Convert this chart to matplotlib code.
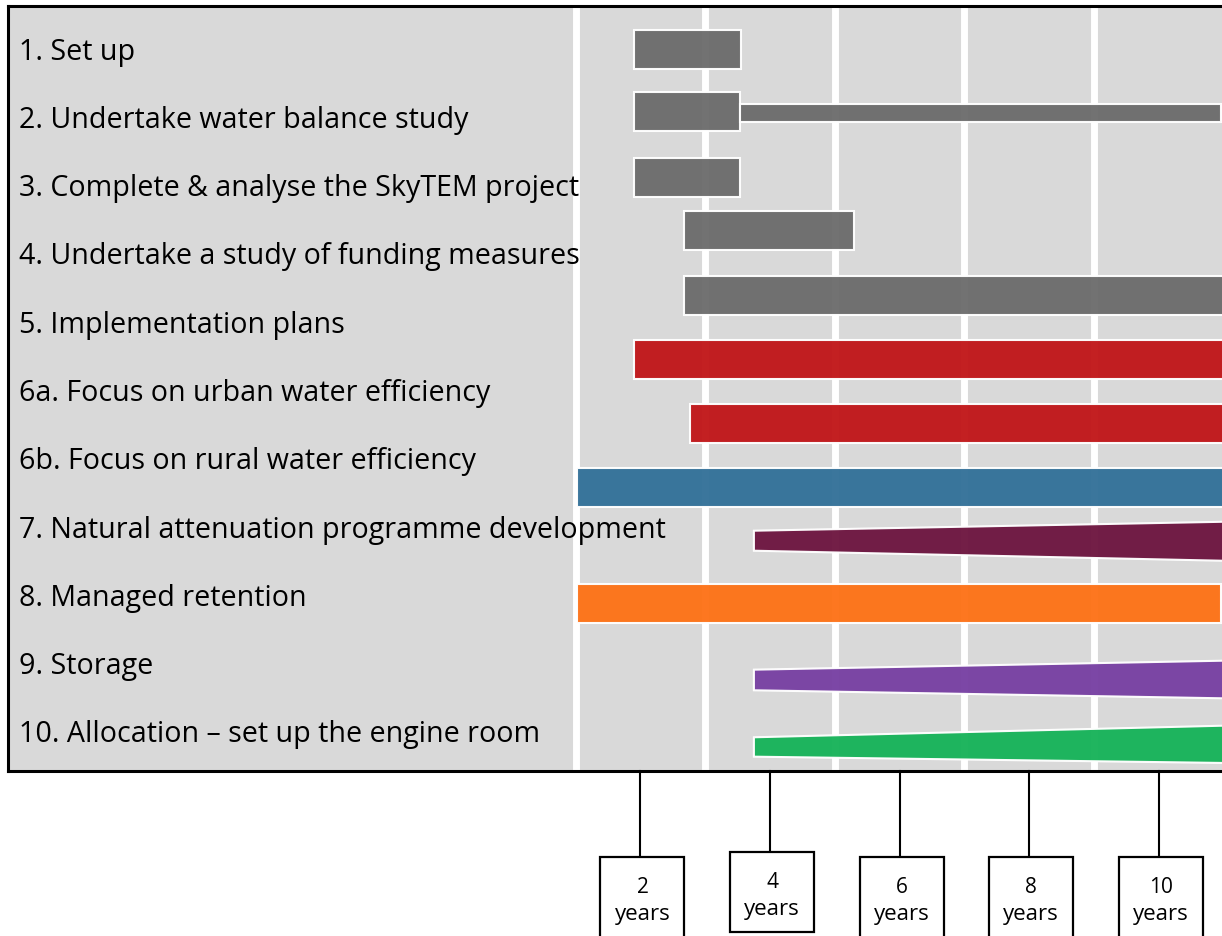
import matplotlib
matplotlib.use("Agg")
import matplotlib.pyplot as plt
from matplotlib.patches import Rectangle, Polygon
import matplotlib.transforms as mtransforms
import numpy as np

plt.rcParams['font.family'] = ['Open Sans', 'DejaVu Sans']

# ---------------- data ----------------
labels = [
    "1. Set up",
    "2. Undertake water balance study",
    "3. Complete & analyse the SkyTEM project",
    "4. Undertake a study of funding measures",
    "5. Implementation plans",
    "6a. Focus on urban water efficiency",
    "6b. Focus on rural water efficiency",
    "7. Natural attenuation programme development",
    "8. Managed retention",
    "9. Storage",
    "10. Allocation \u2013 set up the engine room",
]

# rectangular bars (start / end in years)
bar_start = [1.90, 1.90, 3.54, 1.90, 2.67, 2.67, 1.90, 2.76, 1.02, 1.02]
bar_end   = [3.55, 3.54, 10.96, 3.54, 5.29, 11.5, 11.5, 11.5, 11.5, 10.96]
bar_colors = ["#6d6d6d", "#6d6d6d", "#6d6d6d", "#6d6d6d", "#6d6d6d", "#6d6d6d",
              "#c1181b", "#c1181b", "#347299", "#fd7318"]

# tapered bars (wedges): start / end in years
wedge_start = [3.75, 3.75, 3.75]
wedge_end = [11.0, 11.0, 11.0]
wedge_colors = ["#6e1741", "#7841a3", "#18b35a"]

tick_years = [2, 4, 6, 8, 10]

# ---------------- layout (rows / sizes) ----------------
bar_rows = [0.015, 0.937, 0.945, 1.903, 2.679, 3.631, 4.568, 5.505, 6.442, 8.133]
bar_heights = [0.571, 0.571, 0.264, 0.571, 0.571, 0.571, 0.571, 0.571, 0.571, 0.571]
wedge_row_left = [7.214, 9.253, 10.234]
wedge_row_right = [7.222, 9.246, 10.195]
wedge_h_left = [0.293, 0.302, 0.284]
wedge_h_right = [0.571, 0.551, 0.546]
box_top_px = [858, 853, 858, 858, 858]
box_bottom_px = [945, 933, 945, 945, 945]

W, H = 1222, 937
fig = plt.figure(figsize=(W / 100, H / 100), dpi=100)
fig.patch.set_facecolor("white")

ax_left, ax_right, ax_top, ax_bot = 8, 1222, 6.5, 772
ax = fig.add_axes([ax_left / W, (H - ax_bot) / H, (ax_right - ax_left) / W, (ax_bot - ax_top) / H])
ax.set_facecolor("#d9d9d9")

px_per_year = 64.8
x0 = 2 - (640.5 - ax_left) / px_per_year
x1 = 2 + (ax_right - 640.5) / px_per_year
ax.set_xlim(x0, x1)
row_px = 68.3
ax.set_ylim((ax_bot - 49) / row_px, (ax_top - 49) / row_px)

for s in ["left", "top", "bottom"]:
    ax.spines[s].set_linewidth(2.2)
    ax.spines[s].set_color("black")
ax.spines["right"].set_visible(False)
ax.set_xticks([])
ax.set_yticks([])

# vertical white gridlines at odd years
for yr in [1, 3, 5, 7, 9]:
    ax.axvline(yr, color="white", lw=5, zorder=1)

# rectangular bars
ax.barh(bar_rows, np.array(bar_end) - np.array(bar_start), left=bar_start,
        height=bar_heights, color=bar_colors, edgecolor="white", linewidth=1.5,
        alpha=0.97, zorder=2)

# wedges
for xs, xe, rl, rr, hl, hr, c in zip(wedge_start, wedge_end, wedge_row_left,
                                     wedge_row_right, wedge_h_left, wedge_h_right,
                                     wedge_colors):
    pts = [(xs, rl - hl / 2), (xe, rr - hr / 2), (xe, rr + hr / 2), (xs, rl + hl / 2)]
    ax.add_patch(Polygon(pts, closed=True, facecolor=c, edgecolor="white",
                         linewidth=1.5, alpha=0.97, zorder=2))

# labels
trans_lab = mtransforms.blended_transform_factory(ax.transAxes, ax.transData)
for i, lab in enumerate(labels):
    ax.text(11 / (ax_right - ax_left), i + 10.5 / row_px, lab, transform=trans_lab,
            fontsize=20.6, color="black", ha="left", va="baseline", zorder=5)

# tick lines and boxes below the panel
trans_box = mtransforms.blended_transform_factory(ax.transData, ax.transAxes)
ax_h = ax_bot - ax_top
def frac(py):
    return (ax_bot - py) / ax_h

box_w = 84 / px_per_year
for yr, top, bot in zip(tick_years, box_top_px, box_bottom_px):
    ax.plot([yr, yr], [0, frac(top)], color="black", lw=1.5, transform=trans_box,
            clip_on=False, zorder=3)
    cx = yr + 0.03
    ax.add_patch(Rectangle((cx - box_w / 2, frac(bot)), box_w, frac(top) - frac(bot),
                           transform=trans_box, facecolor="white", edgecolor="black",
                           lw=1.6, clip_on=False, zorder=3))
    ax.text(cx, frac(top + 35), str(yr), transform=trans_box, ha="center",
            va="baseline", fontsize=15, color="black", clip_on=False)
    ax.text(cx, frac(top + 62), "years", transform=trans_box, ha="center",
            va="baseline", fontsize=16, color="black", clip_on=False)

fig.savefig("out.png", dpi=100, facecolor="white")
